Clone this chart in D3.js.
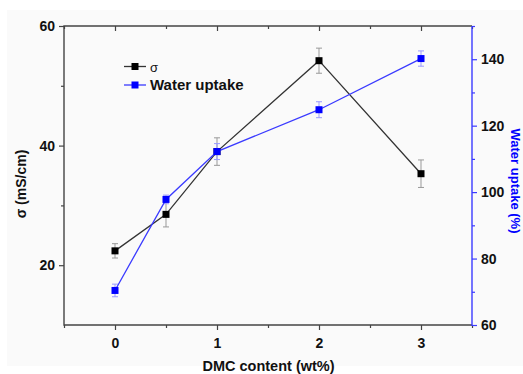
<!DOCTYPE html>
<html>
<head>
<meta charset="utf-8">
<script src="https://cdn.jsdelivr.net/npm/d3@7"></script>
<style>
  body { margin: 0; background: #fff; }
  svg { display: block; font-family: "Liberation Sans", Arial, sans-serif; }
</style>
</head>
<body>
<div id="chart"></div>
<script>
// DMC content (wt%)
var dmc = [0, 0.5, 1, 2, 3];
// conductivity sigma (mS/cm) and its error
var sigma = [22.4, 28.5, 39.0, 54.2, 35.3];
var sigmaErr = [1.2, 2.1, 2.3, 2.1, 2.3];
// water uptake (%) and its error
var water = [70.4, 97.8, 112.2, 124.8, 140.2];
var waterErr = [1.9, 1.3, 2.4, 2.4, 2.3];

var xTicks = [0, 1, 2, 3];
var xMinor = [-0.5, 0.5, 1.5, 2.5, 3.5];
var yLeftTicks = [20, 40, 60];
var yLeftMinor = [30, 50];
var yRightTicks = [60, 80, 100, 120, 140];
var yRightMinor = [70, 90, 110, 130, 150];

function init() {
    var w = 523, h = 374;
    var left = 64, right = 472, top = 26, bottom = 325;
    var blue = "#0000ff";
    var blueLine = "#3a3aff";

    var svg = d3.select("#chart").append("svg")
        .attr("width", w)
        .attr("height", h);

    svg.append("rect")
        .attr("x", 7).attr("y", 10)
        .attr("width", w - 7).attr("height", 356)
        .attr("fill", "#fafafa");

    var x = d3.scaleLinear().domain([-0.5, 3.5]).range([left, right]);
    var yL = d3.scaleLinear().domain([10, 60]).range([bottom, top]);
    var yR = d3.scaleLinear().domain([60, 150]).range([bottom, top]);

    function axis(gen, values, size, labels) {
        return gen.tickValues(values).tickSizeInner(size).tickSizeOuter(0)
            .tickPadding(4).tickFormat(labels ? d3.format("d") : "");
    }

    // bottom axis
    var gb = svg.append("g").attr("transform", `translate(0,${bottom})`);
    gb.call(axis(d3.axisBottom(x), xTicks, 5, true));
    gb.append("g").call(axis(d3.axisBottom(x), xMinor, 3, false));
    // top axis, ticks pointing in
    var gt = svg.append("g").attr("transform", `translate(0,${top})`);
    gt.call(axis(d3.axisBottom(x), xTicks, 5, false));
    gt.append("g").call(axis(d3.axisBottom(x), xMinor, 3, false));
    // left axis
    var gl = svg.append("g").attr("transform", `translate(${left},0)`);
    gl.call(axis(d3.axisLeft(yL), yLeftTicks, 5, true));
    gl.append("g").call(axis(d3.axisLeft(yL), yLeftMinor, 3, false));
    // right axis
    var gr = svg.append("g").attr("transform", `translate(${right},0)`);
    gr.call(axis(d3.axisRight(yR), yRightTicks, 5, true));
    gr.append("g").call(axis(d3.axisRight(yR), yRightMinor, 3, false));

    svg.selectAll(".domain").remove();
    svg.selectAll(".tick line").attr("stroke", "#444").attr("stroke-width", 1.2);
    gr.selectAll(".tick line").attr("stroke", blueLine);
    svg.selectAll(".tick text")
        .attr("fill", "#111")
        .style("font-size", "14px")
        .style("font-weight", "bold");
    gb.selectAll(".tick text").attr("dy", "1em").attr("y", 9);

    // frame
    svg.append("path")
        .attr("d", `M${right},${top}H${left}V${bottom}H${right}`)
        .attr("fill", "none").attr("stroke", "#444").attr("stroke-width", 1.4);
    svg.append("line")
        .attr("x1", right).attr("x2", right).attr("y1", top).attr("y2", bottom + 1)
        .attr("stroke", blueLine).attr("stroke-width", 1.4);

    // series
    function drawSeries(vals, errs, y, lineColor, markColor, errColor) {
        var pts = dmc.map((d, i) => ({ x: d, v: vals[i], e: errs[i] }));
        var g = svg.append("g");
        var eb = g.selectAll(".err").data(pts).enter().append("g")
            .attr("stroke", errColor).attr("stroke-width", 1);
        eb.append("line")
            .attr("x1", d => x(d.x)).attr("x2", d => x(d.x))
            .attr("y1", d => y(d.v - d.e)).attr("y2", d => y(d.v + d.e));
        [-1, 1].forEach(s => {
            eb.append("line")
                .attr("x1", d => x(d.x) - 3).attr("x2", d => x(d.x) + 3)
                .attr("y1", d => y(d.v + s * d.e)).attr("y2", d => y(d.v + s * d.e));
        });
        g.append("path")
            .datum(pts)
            .attr("fill", "none")
            .attr("stroke", lineColor)
            .attr("stroke-width", 1.3)
            .attr("d", d3.line().x(d => x(d.x)).y(d => y(d.v)));
        g.selectAll("rect").data(pts).enter().append("rect")
            .attr("x", d => x(d.x) - 3.5).attr("y", d => y(d.v) - 3.5)
            .attr("width", 7).attr("height", 7)
            .attr("fill", markColor);
    }
    drawSeries(sigma, sigmaErr, yL, "#333", "#000", "#999");
    drawSeries(water, waterErr, yR, blueLine, blue, "#9a9aff");

    // legend
    var legend = [
        { label: "σ", line: "#333", mark: "#000", y: 66.5, size: "13px", weight: "normal" },
        { label: "Water uptake", line: blueLine, mark: blue, y: 85, size: "15px", weight: "bold" }
    ];
    var lg = svg.selectAll(".leg").data(legend).enter().append("g");
    lg.append("line")
        .attr("x1", 124).attr("x2", 146)
        .attr("y1", d => d.y).attr("y2", d => d.y)
        .attr("stroke", d => d.line).attr("stroke-width", 1.3);
    lg.append("rect")
        .attr("x", 131.5).attr("y", d => d.y - 3.5)
        .attr("width", 7).attr("height", 7)
        .attr("fill", d => d.mark);
    lg.append("text")
        .attr("x", 150).attr("y", d => d.y + 5)
        .style("font-size", d => d.size)
        .style("font-weight", d => d.weight)
        .attr("fill", "#111")
        .text(d => d.label);

    // axis titles
    svg.append("text")
        .attr("transform", `translate(${w / 2 + 7}, 371)`)
        .style("text-anchor", "middle")
        .style("font-size", "14.5px")
        .style("font-weight", "bold")
        .attr("fill", "#111")
        .text("DMC content (wt%)");

    svg.append("text")
        .attr("transform", "translate(26, 184) rotate(-90)")
        .style("text-anchor", "middle")
        .style("font-size", "14px")
        .style("font-weight", "bold")
        .attr("fill", "#111")
        .text("σ (mS/cm)");

    svg.append("text")
        .attr("transform", "translate(511, 181) rotate(90)")
        .style("text-anchor", "middle")
        .style("font-size", "13px")
        .style("font-weight", "bold")
        .attr("fill", blue)
        .text("Water uptake (%)");
}

window.onload = init;
</script>
</body>
</html>
